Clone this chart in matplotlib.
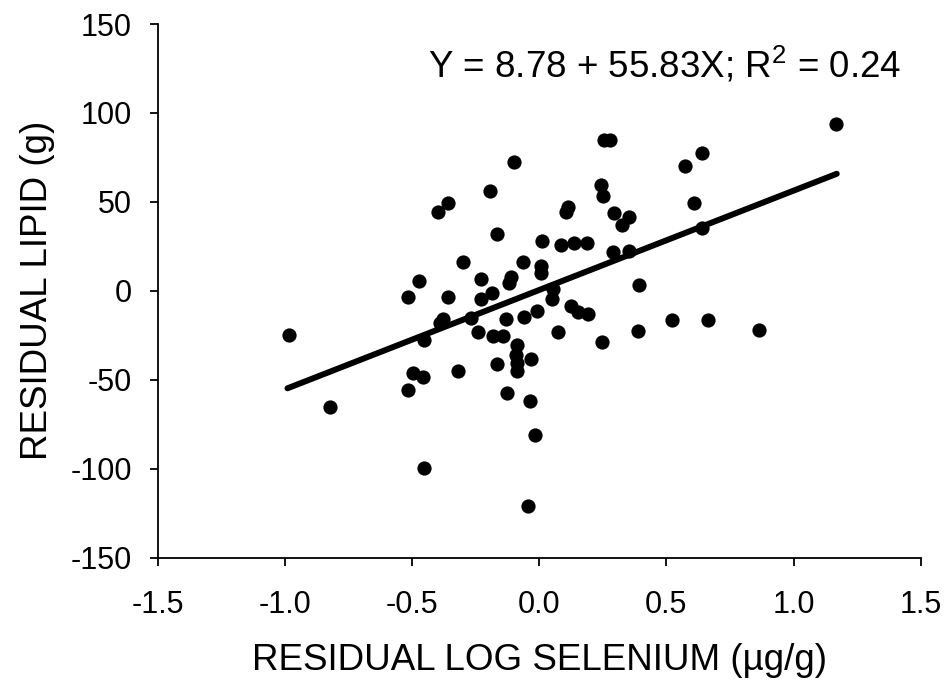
import matplotlib
matplotlib.use('Agg')
import matplotlib.pyplot as plt
import numpy as np

plt.rcParams['font.family'] = ['Liberation Sans', 'DejaVu Sans']
plt.rcParams['mathtext.fontset'] = 'custom'
plt.rcParams['mathtext.rm'] = 'Liberation Sans'
plt.rcParams['mathtext.default'] = 'regular'
plt.rcParams['axes.unicode_minus'] = False

# residual log selenium (x) and residual lipid (y)
sel = [-0.099, -0.192, -0.357, -0.399, -0.167, 0.012, -0.298, -0.065, 0.007, 0.007,
       -0.471, -0.517, -0.359, -0.230, -0.112, -0.118, -0.187, -0.230, 0.049, 0.054,
       -0.377, -0.390, -0.268, -0.131, -0.060, -0.010, -0.239, -0.183, -0.144, -0.453,
       -0.087, -0.091, -0.088, -0.088, -0.032, -0.167, -0.320, -0.497, -0.458, -0.515,
       -0.983, -0.128, -0.035, -0.824, -0.017, -0.453, -0.045, 0.291, 0.392, 0.124,
       0.154, 0.193, 0.073, 0.247, 0.390, 1.167, 0.255, 0.278, 0.639, 0.573,
       0.242, 0.252, 0.114, 0.105, 0.295, 0.353, 0.324, 0.610, 0.085, 0.138,
       0.187, 0.354, 0.639, 0.524, 0.665, 0.863]
lipid = [72.6, 55.9, 49.4, 44.5, 31.9, 28.2, 16.2, 16.2, 13.7, 10.0,
         5.7, -3.5, -3.5, 6.5, 7.9, 4.2, -1.1, -4.8, -4.3, 1.0,
         -15.9, -18.3, -15.5, -15.7, -14.6, -11.4, -23.3, -25.2, -25.2, -27.7,
         -30.5, -36.1, -40.8, -44.9, -38.3, -41.0, -44.9, -46.0, -48.3, -55.8,
         -24.8, -57.6, -61.9, -65.1, -81.1, -99.6, -120.7, 22.0, 3.3, -8.5,
         -11.7, -13.2, -23.0, -28.8, -22.6, 93.8, 84.8, 84.8, 77.6, 70.2,
         59.5, 53.5, 47.3, 44.5, 43.9, 41.7, 37.0, 49.2, 25.6, 27.0,
         27.0, 22.5, 35.5, -16.1, -16.4, -22.0]

# fitted line (residuals, drawn over the data range)
slope = 55.83
intercept = 0.5
line_x = [-0.99, 1.17]

x_ticks = [-1.5, -1.0, -0.5, 0.0, 0.5, 1.0, 1.5]
y_ticks = [-150, -100, -50, 0, 50, 100, 150]

fig = plt.figure(figsize=(9.48, 6.84), dpi=100)
ax = fig.add_axes([0.1664, 0.1846, 0.8048, 0.7803])

ax.scatter(sel, lipid, s=105, color='black', zorder=3, linewidths=0)
lx = np.array(line_x)
ax.plot(lx, intercept + slope * lx, color='black', lw=4.3,
        solid_capstyle='round', zorder=2)

ax.set_xlim(-1.5, 1.5)
ax.set_ylim(-150, 150)
ax.set_xticks(x_ticks)
ax.set_xticklabels([f'{t:.1f}' for t in x_ticks])
ax.set_yticks(y_ticks)

for s in ['top', 'right']:
    ax.spines[s].set_visible(False)
for s in ['left', 'bottom']:
    ax.spines[s].set_linewidth(1.3)
ax.tick_params(direction='out', length=5.5, width=1.3, labelsize=22)
ax.tick_params(axis='x', pad=18)
ax.tick_params(axis='y', pad=13)

ax.set_xlabel('RESIDUAL LOG SELENIUM (µg/g)', fontsize=26.5, labelpad=16)
ax.set_ylabel('RESIDUAL LIPID (g)', fontsize=26.5, labelpad=11)

ax.text(0.664, 0.923, 'Y = 8.78 + 55.83X; R$^2$ = 0.24', transform=ax.transAxes,
        ha='center', va='center', fontsize=26.5)

fig.savefig('out.png', dpi=100)
